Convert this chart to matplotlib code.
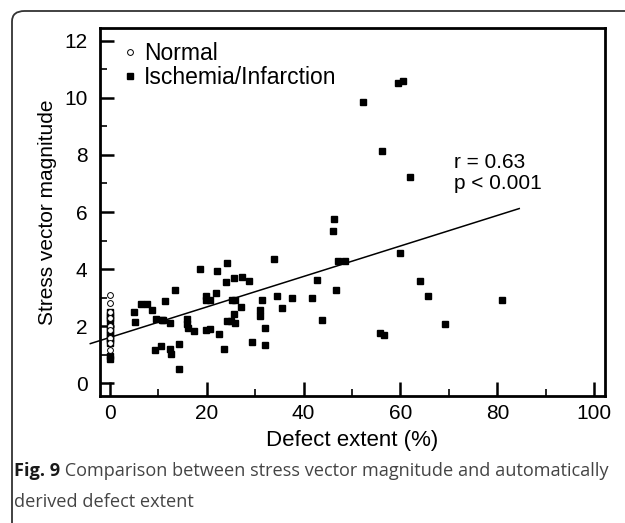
import numpy as np
import matplotlib
matplotlib.use('Agg')
import matplotlib.pyplot as plt
from matplotlib.patches import FancyBboxPatch

plt.rcParams['font.family'] = ['Liberation Sans', 'DejaVu Sans']

# Data
normal_x = [0, 0, 0, 0, 0, 0, 0, 0, 0]
normal_y = [3.1, 2.8, 2.5, 2.3, 2.0, 1.85, 1.6, 1.4, 1.15]

isch_x = [0, 0, 0, 0, 0, 0, 0, 0, 0, 0, 0, 0, 0,
          5.0, 5.3, 6.5, 7.7, 8.7, 9.6, 10.7, 11.1, 9.4, 10.5, 11.5, 12.4,
          12.4, 12.6, 13.4, 14.2, 14.4, 15.9, 15.9, 16.2, 17.3, 18.6,
          19.8, 19.8, 20.6, 19.8, 20.8, 21.9, 22.1, 22.5, 23.6, 24.3, 23.9,
          25.6, 27.2, 28.7, 25.2, 25.9, 27.0, 25.6, 24.3, 25.1, 25.9, 29.3,
          31.4, 31.1, 31.1, 32.0, 32.1, 34.0, 34.5, 35.6, 37.7, 41.8, 42.8,
          43.9, 46.3, 46.0, 47.1, 48.6, 46.7, 59.9, 55.7, 56.7, 64.1, 65.6,
          69.2, 52.2, 56.2, 62.0, 81.0, 59.4, 60.5]
isch_y = [2.5, 2.4, 2.3, 2.2, 2.0, 1.9, 1.8, 1.7, 1.6, 1.5, 1.4, 0.95, 0.85,
          2.51, 2.14, 2.76, 2.76, 2.55, 2.26, 2.23, 2.23, 1.15, 1.29, 2.87, 2.12,
          1.21, 1.01, 3.27, 1.38, 0.48, 2.26, 2.08, 1.93, 1.83, 4.0,
          3.07, 2.92, 2.92, 1.87, 1.89, 3.15, 3.92, 1.71, 1.21, 4.2, 3.56,
          3.69, 3.73, 3.57, 2.92, 2.92, 2.66, 2.43, 2.17, 2.17, 2.12, 1.44,
          2.92, 2.58, 2.34, 1.94, 1.35, 4.35, 3.05, 2.65, 2.99, 2.99, 3.63,
          2.2, 5.74, 5.34, 4.29, 4.28, 3.28, 4.55, 1.77, 1.69, 3.57, 3.06,
          2.06, 9.87, 8.15, 7.22, 2.92, 10.52, 10.6]

fit_slope = 0.0535
fit_intercept = 1.6
fit_x = [-4, 84.5]

x_ticks = [0, 20, 40, 60, 80, 100]
y_ticks = [0, 2, 4, 6, 8, 10, 12]

fig = plt.figure(figsize=(6.25, 5.23), dpi=100)
ax = fig.add_axes([100/625, 1 - 396/523, 505/625, 368/523])

ax.plot(isch_x, isch_y, 's', color='black', markersize=4.8, label='Ischemia/Infarction',
        zorder=3)
ax.plot(normal_x, normal_y, 'o', mfc='white', mec='black', mew=0.7, markersize=4.2,
        label='Normal', zorder=4)

fx = np.array(fit_x)
ax.plot(fx, fit_intercept + fit_slope * fx, color='black', lw=1.1, clip_on=False, zorder=2)

ax.text(71.1, 7.38, 'r = 0.63\np < 0.001', fontsize=15, va='center', ha='left',
        linespacing=1.15)

ax.set_xlim(-2, 102.2)
ax.set_ylim(-0.45, 12.45)
ax.set_xticks(x_ticks)
ax.set_yticks(y_ticks)
ax.set_xticks(np.arange(10, 101, 20), minor=True)
ax.set_yticks(np.arange(1, 12, 2), minor=True)
ax.tick_params(which='major', direction='in', length=10, width=1.8, labelsize=15, pad=6)
ax.tick_params(which='minor', direction='in', length=5, width=1.2)
ax.tick_params(axis='y', which='major', pad=9)
for s in ax.spines.values():
    s.set_linewidth(2)

ax.set_xlabel('Defect extent (%)', fontsize=16, labelpad=5)
ax.set_ylabel('Stress vector magnitude', fontsize=15, labelpad=5)

h, l = ax.get_legend_handles_labels()
leg = ax.legend(h[::-1], l[::-1], loc='upper left', frameon=False, fontsize=16.5,
                handlelength=0.5, handletextpad=0.35, borderaxespad=0.0,
                labelspacing=0.08, bbox_to_anchor=(0.03, 0.988))

# Caption
cap_font = ['Open Sans', 'DejaVu Sans']
cap = fig.text(14/625, 1 - 476/523, 'Fig. 9', fontsize=13.1, fontweight='bold',
               family=cap_font, color='#1a1a1a')
ax.annotate(' Comparison between stress vector magnitude and automatically',
            xy=(1, 0), xycoords=cap, va='bottom', ha='left', fontsize=13.1,
            family=cap_font, color='#444444', annotation_clip=False)
fig.text(14/625, 1 - 507/523, 'derived defect extent', fontsize=13.1,
         family=cap_font, color='#444444')

box = FancyBboxPatch((12/625, -0.1), 1.2, 1 - 11/523 + 0.1,
                     boxstyle='round,pad=0,rounding_size=0.02',
                     transform=fig.transFigure, fill=False, ec='#333333', lw=1.3)
fig.patches.append(box)

fig.savefig('out.png', dpi=100)
